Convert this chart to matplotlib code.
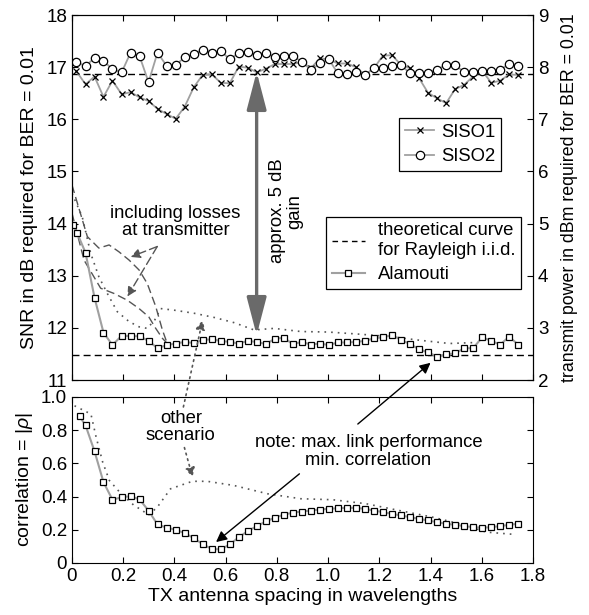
import matplotlib
matplotlib.use('Agg')
import matplotlib.pyplot as plt
from matplotlib.lines import Line2D
from matplotlib.patches import FancyArrowPatch

plt.rcParams['font.family'] = ['Liberation Sans', 'DejaVu Sans']
plt.rcParams['font.size'] = 13.3
plt.rcParams['xtick.labelsize'] = 13.5
plt.rcParams['ytick.labelsize'] = 13.5
plt.rcParams['axes.labelsize'] = 14
plt.rcParams['mathtext.fontset'] = 'custom'
plt.rcParams['mathtext.rm'] = 'Liberation Sans'
plt.rcParams['mathtext.it'] = 'Liberation Sans:italic'

# antenna spacings (in wavelengths) of the simulated points
x_grid = [0.053, 0.088, 0.123, 0.158, 0.194, 0.229, 0.264, 0.299, 0.334, 0.370,
          0.405, 0.440, 0.475, 0.510, 0.546, 0.581, 0.616, 0.651, 0.686, 0.722,
          0.757, 0.792, 0.827, 0.862, 0.898, 0.933, 0.968, 1.003, 1.038, 1.074,
          1.109, 1.144, 1.179, 1.214, 1.250, 1.285, 1.320, 1.355, 1.390, 1.426,
          1.461, 1.496, 1.531, 1.566, 1.602, 1.637, 1.672, 1.707, 1.742]

x_siso = [0.016] + x_grid
siso1 = [16.93, 16.67, 16.82, 16.43, 16.74, 16.48, 16.52, 16.42, 16.35, 16.20,
         16.10, 16.01, 16.24, 16.61, 16.85, 16.86, 16.70, 16.69, 17.01, 16.99,
         16.90, 16.97, 17.06, 17.06, 17.06, 17.10, 16.98, 17.17, 17.15, 17.07,
         17.07, 17.00, 16.85, 16.98, 17.22, 17.23, 17.04, 16.98, 16.79, 16.51,
         16.40, 16.31, 16.58, 16.66, 16.82, 16.93, 16.70, 16.74, 16.86, 16.85]
siso2 = [17.09, 17.03, 17.17, 17.12, 16.96, 16.90, 17.28, 17.21, 16.71, 17.28,
         17.02, 17.04, 17.19, 17.25, 17.33, 17.28, 17.31, 17.15, 17.27, 17.30,
         17.23, 17.28, 17.19, 17.22, 17.22, 17.10, 16.95, 17.07, 17.15, 16.88,
         16.86, 16.91, 16.85, 16.98, 16.98, 17.03, 17.04, 16.88, 16.89, 16.89,
         16.95, 17.05, 17.05, 16.90, 16.90, 16.93, 16.93, 16.95, 17.06, 17.03]

x_alam_snr = [0.005, 0.02] + x_grid
alam_snr = [13.97, 13.82, 13.44, 12.58, 11.91, 11.67, 11.85, 11.84, 11.84, 11.75,
            11.61, 11.67, 11.70, 11.73, 11.71, 11.77, 11.78, 11.75, 11.73, 11.70,
            11.75, 11.73, 11.69, 11.79, 11.81, 11.69, 11.73, 11.68, 11.70, 11.67,
            11.72, 11.72, 11.73, 11.75, 11.80, 11.82, 11.86, 11.77, 11.69, 11.59,
            11.53, 11.45, 11.49, 11.51, 11.61, 11.61, 11.82, 11.75, 11.68, 11.83,
            11.68]

x_alam_corr = [0.03] + x_grid
alam_corr = [0.883, 0.829, 0.673, 0.487, 0.381, 0.396, 0.402, 0.383, 0.315, 0.232,
             0.213, 0.200, 0.180, 0.150, 0.114, 0.084, 0.082, 0.112, 0.154, 0.192,
             0.222, 0.250, 0.273, 0.291, 0.303, 0.310, 0.316, 0.322, 0.326, 0.330,
             0.332, 0.332, 0.326, 0.316, 0.306, 0.296, 0.286, 0.276, 0.266, 0.256,
             0.246, 0.236, 0.230, 0.222, 0.216, 0.212, 0.216, 0.222, 0.230, 0.236]

theory_siso = 16.86
theory_alam = 11.48

# "including losses at transmitter" curves
x_loss1 = [0.0, 0.06, 0.105, 0.145, 0.183, 0.223, 0.262, 0.294, 0.327, 0.353, 0.372]
loss1 = [14.74, 13.75, 13.53, 13.59, 13.46, 13.30, 13.11, 12.85, 12.41, 11.96, 11.70]
x_loss2 = [0.0, 0.047, 0.112, 0.164, 0.216, 0.262, 0.30, 0.327, 0.353, 0.372]
loss2 = [14.2, 13.30, 12.76, 12.66, 12.53, 12.37, 12.21, 11.99, 11.80, 11.70]

# "other scenario" curves
x_other_snr = [0.0, 0.04, 0.073, 0.105, 0.138, 0.177, 0.223, 0.262, 0.294, 0.323,
               0.346, 0.398, 0.477, 0.555, 0.633, 0.711, 0.789, 0.893, 1.0, 1.12,
               1.25, 1.344, 1.474, 1.58]
other_snr = [14.58, 14.13, 13.43, 12.98, 12.66, 12.31, 12.12, 12.02, 11.99, 12.15,
             12.37, 12.34, 12.28, 12.20, 12.10, 11.96, 11.99, 11.93, 11.92, 11.88,
             11.83, 11.77, 11.70, 11.72]
x_other_corr = [0.01, 0.074, 0.094, 0.12, 0.146, 0.19, 0.24, 0.30, 0.333, 0.385,
                0.47, 0.528, 0.632, 0.763, 0.893, 1.018, 1.148, 1.278, 1.408, 1.539,
                1.617, 1.728]
other_corr = [0.947, 0.897, 0.76, 0.607, 0.497, 0.42, 0.35, 0.29, 0.336, 0.447,
              0.492, 0.492, 0.467, 0.417, 0.387, 0.381, 0.357, 0.316, 0.276, 0.226,
              0.186, 0.172]

x_ticks = [0, 0.2, 0.4, 0.6, 0.8, 1.0, 1.2, 1.4, 1.6, 1.8]
x_ticklabels = ['0', '0.2', '0.4', '0.6', '0.8', '1.0', '1.2', '1.4', '1.6', '1.8']
corr_ticks = [0, 0.2, 0.4, 0.6, 0.8, 1.0]
corr_ticklabels = ['0', '0.2', '0.4', '0.6', '0.8', '1.0']

gray = '#a0a0a0'

fig = plt.figure(figsize=(5.89, 6.15), dpi=100)
ax = fig.add_axes([0.1222, 0.3821, 0.7827, 0.5935])
axb = fig.add_axes([0.1222, 0.0846, 0.7827, 0.2699])

# ---- top panel ----
ax.plot(x_loss1, loss1, color='#555555', lw=1, dashes=(6, 3))
ax.plot(x_loss2, loss2, color='#555555', lw=1, dashes=(6, 3))
ax.plot(x_other_snr, other_snr, color='#555555', lw=1.2, ls=(0, (1, 3)))
ax.axhline(theory_siso, color='k', lw=1, dashes=(5, 3))
ax.axhline(theory_alam, color='k', lw=1, dashes=(5, 3))
ax.plot(x_siso, siso1, color=gray, lw=1.3, marker='x', ms=5, mec='k', mew=0.9)
ax.plot(x_siso, siso2, color=gray, lw=1.3, marker='o', ms=6, mec='k', mfc='white', mew=0.9)
ax.plot(x_alam_snr, alam_snr, color=gray, lw=1.5, marker='s', ms=4.5, mec='k', mfc='white', mew=0.9)

ax.set_xlim(0, 1.8)
ax.set_ylim(11, 18)
ax.set_xticks(x_ticks)
ax.set_yticks(range(11, 19))
ax.tick_params(direction='in', top=True, right=False, labelbottom=False, length=4)
ax.set_ylabel('SNR in dB required for BER = 0.01', labelpad=6)

ax2 = ax.twinx()
ax2.set_ylim(2, 9)
ax2.set_yticks(range(2, 10))
ax2.tick_params(direction='in', length=4)
ax2.set_ylabel('transmit power in dBm required for BER = 0.01', labelpad=9,
               fontsize=12.8)

# big double arrow
big = FancyArrowPatch((0.721, 11.86), (0.721, 16.91), mutation_scale=20,
                      color='#6a6a6a', lw=2.4, shrinkA=0, shrinkB=0)
big.set_arrowstyle('<|-|>', head_length=1.15, head_width=0.3)
ax.add_patch(big)
ax.text(0.835, 14.24, 'approx. 5 dB\ngain', rotation=90, ha='center', va='center',
        multialignment='center', linespacing=1.0)

ax.text(0.404, 14.03, 'including losses\nat transmitter', ha='center', va='center',
        linespacing=1.05)
for hx, hy in [(0.229, 13.36), (0.216, 12.60)]:
    ax.annotate('', xy=(hx, hy), xytext=(0.333, 13.56),
                arrowprops=dict(arrowstyle='-|>', color='#555555', lw=1,
                                ls=(0, (6, 3)), mutation_scale=14, shrinkA=0, shrinkB=0))

leg1 = ax.legend(handles=[
    Line2D([], [], color=gray, lw=1.3, marker='x', ms=5, mec='k', mew=0.9),
    Line2D([], [], color=gray, lw=1.3, marker='o', ms=6, mec='k', mfc='white', mew=0.9)],
    labels=['SISO1', 'SISO2'], loc='upper left', bbox_to_anchor=(0.71, 0.717),
    borderaxespad=0, fancybox=False, edgecolor='k', framealpha=1,
    handlelength=1.6, handletextpad=0.35, borderpad=0.3, labelspacing=0.4)
leg1.get_frame().set_linewidth(0.9)
ax.add_artist(leg1)

leg2 = ax.legend(handles=[
    Line2D([], [], color='k', lw=1, dashes=(4, 3)),
    Line2D([], [], color=gray, lw=1.5, marker='s', ms=4.5, mec='k', mfc='white', mew=0.9)],
    labels=['theoretical curve\nfor Rayleigh i.i.d.', 'Alamouti'], loc='upper left',
    bbox_to_anchor=(0.551, 0.447), borderaxespad=0, fancybox=False, edgecolor='k',
    framealpha=1, handlelength=1.8, handletextpad=0.7, borderpad=0.3, labelspacing=0.4)
leg2.get_frame().set_linewidth(0.9)

# ---- bottom panel ----
axb.plot(x_other_corr, other_corr, color='#555555', lw=1.2, ls=(0, (1, 3)))
axb.plot(x_alam_corr, alam_corr, color=gray, lw=1.5, marker='s', ms=4.5, mec='k',
         mfc='white', mew=0.9)
axb.set_xlim(0, 1.8)
axb.set_ylim(0, 1)
axb.set_xticks(x_ticks)
axb.set_xticklabels(x_ticklabels)
axb.set_yticks(corr_ticks)
axb.set_yticklabels(corr_ticklabels)
axb.tick_params(direction='in', top=True, right=True, length=4)
axb.set_ylabel(r'correlation = $|\rho|$', labelpad=4)
axb.set_xlabel('TX antenna spacing in wavelengths', labelpad=2)

axb.text(0.425, 0.82, 'other\nscenario', ha='center', va='center', linespacing=1.05)
axb.text(1.158, 0.67, 'note: max. link performance\nmin. correlation', ha='center',
         va='center', linespacing=1.05)

dotted = dict(arrowstyle='-|>', color='#555555', lw=1.2, ls=(0, (1, 2.5)),
              mutation_scale=14, shrinkA=0, shrinkB=0)
axb.annotate('', xy=(0.471, 0.516), xytext=(0.439, 0.695), arrowprops=dotted)
axb.annotate('', xy=(0.51, 12.15), xycoords=ax.transData, xytext=(0.435, 0.94),
             textcoords=axb.transData, arrowprops=dotted, annotation_clip=False)

solid = dict(arrowstyle='-|>', color='k', lw=1, mutation_scale=16, shrinkA=0, shrinkB=0)
axb.annotate('', xy=(0.5625, 0.126), xytext=(0.888, 0.537), arrowprops=solid)
axb.annotate('', xy=(1.40, 11.33), xycoords=ax.transData, xytext=(1.116, 0.837),
             textcoords=axb.transData, arrowprops=solid, annotation_clip=False)

fig.savefig('out.png', dpi=100)
